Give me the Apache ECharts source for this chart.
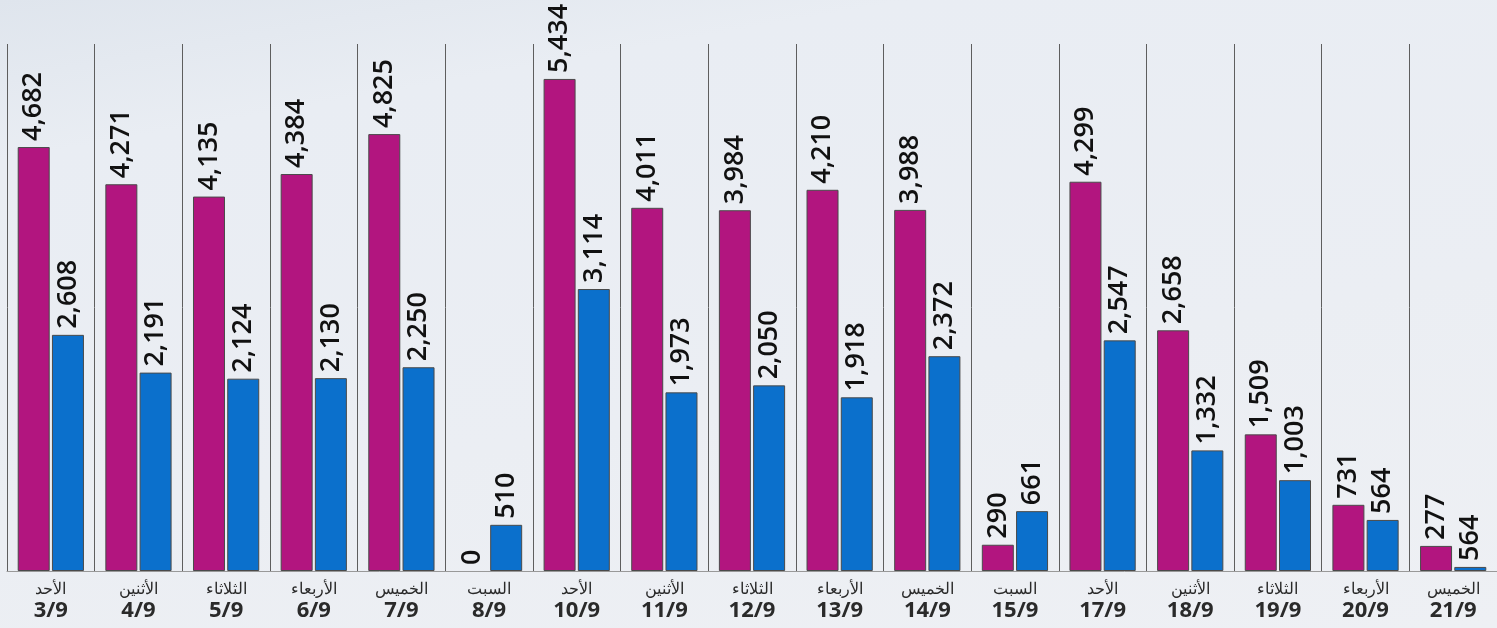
<!DOCTYPE html>
<html>
<head>
<meta charset="utf-8">
<script src="https://cdn.jsdelivr.net/npm/echarts@6/dist/echarts.min.js"></script>
<style>
html,body{margin:0;padding:0;}
#c{width:1497px;height:628px;background:linear-gradient(170deg,#dfe5ed 0%,#e9edf3 18%,#ebeef3 60%,#eef0f4 100%);}
</style>
</head>
<body>
<div id="c"></div>
<script>
const dayNames = ['الأحد','الأثنين','الثلاثاء','الأربعاء','الخميس','السبت','الأحد','الأثنين','الثلاثاء','الأربعاء','الخميس','السبت','الأحد','الأثنين','الثلاثاء','الأربعاء','الخميس'];
const dates = ['3/9','4/9','5/9','6/9','7/9','8/9','10/9','11/9','12/9','13/9','14/9','15/9','17/9','18/9','19/9','20/9','21/9'];
const magentaValues = [4682,4271,4135,4384,4825,0,5434,4011,3984,4210,3988,290,4299,2658,1509,731,277];
const blueValues = [2608,2191,2124,2130,2250,510,3114,1973,2050,1918,2372,661,2547,1332,1003,564,45];
const blueLabels = ['2,608','2,191','2,124','2,130','2,250','510','3,114','1,973','2,050','1,918','2,372','661','2,547','1,332','1,003','564','564'];

const categories = dates.map((d,i)=> dayNames[i] + '\n' + d);
const fmt = v => v.toLocaleString('en-US');
const toItems = arr => arr.map(v => v === 0 ? {value: 0, itemStyle: {borderWidth: 0, color: 'rgba(0,0,0,0)'}} : v);

const labelBase = {
  show: true, position: 'top', rotate: 90, align: 'left', verticalAlign: 'middle',
  distance: 6, fontFamily: 'Open Sans', fontSize: 27, fontWeight: 600, color: '#111'
};

const chart = echarts.init(document.getElementById('c'));
chart.setOption({
  animation: false,
  grid: {left: 7, top: 44, width: 1493, bottom: 57},
  xAxis: {
    type: 'category', data: categories,
    axisLine: {show: true, lineStyle: {color: '#999', width: 1}},
    axisTick: {show: false},
    splitLine: {show: true, lineStyle: {color: '#5e5e5e', width: 1}},
    axisLabel: {
      interval: 0, margin: 9,
      formatter: (v) => { const p = v.split('\n'); return '{a|' + p[0] + '}\n{b|' + p[1] + '}'; },
      rich: {
        a: {fontFamily: 'Noto Sans', fontSize: 16, color: '#2a2a2a', lineHeight: 19},
        b: {fontFamily: 'Open Sans', fontSize: 22, fontWeight: 700, color: '#2a2a2a', lineHeight: 23}
      }
    }
  },
  yAxis: {type: 'value', min: 0, max: 5820, show: false, splitLine: {show: false}},
  series: [
    {
      type: 'bar', data: toItems(magentaValues), barWidth: 32, barGap: '7%',
      itemStyle: {color: '#b2157f', borderColor: '#4a4a4a', borderWidth: 1},
      label: Object.assign({}, labelBase, {formatter: p => fmt(p.value)})
    },
    {
      type: 'bar', data: toItems(blueValues), barWidth: 32,
      itemStyle: {color: '#0b70cc', borderColor: '#4a4a4a', borderWidth: 1},
      label: Object.assign({}, labelBase, {formatter: p => blueLabels[p.dataIndex]})
    }
  ]
});
</script>
</body>
</html>
